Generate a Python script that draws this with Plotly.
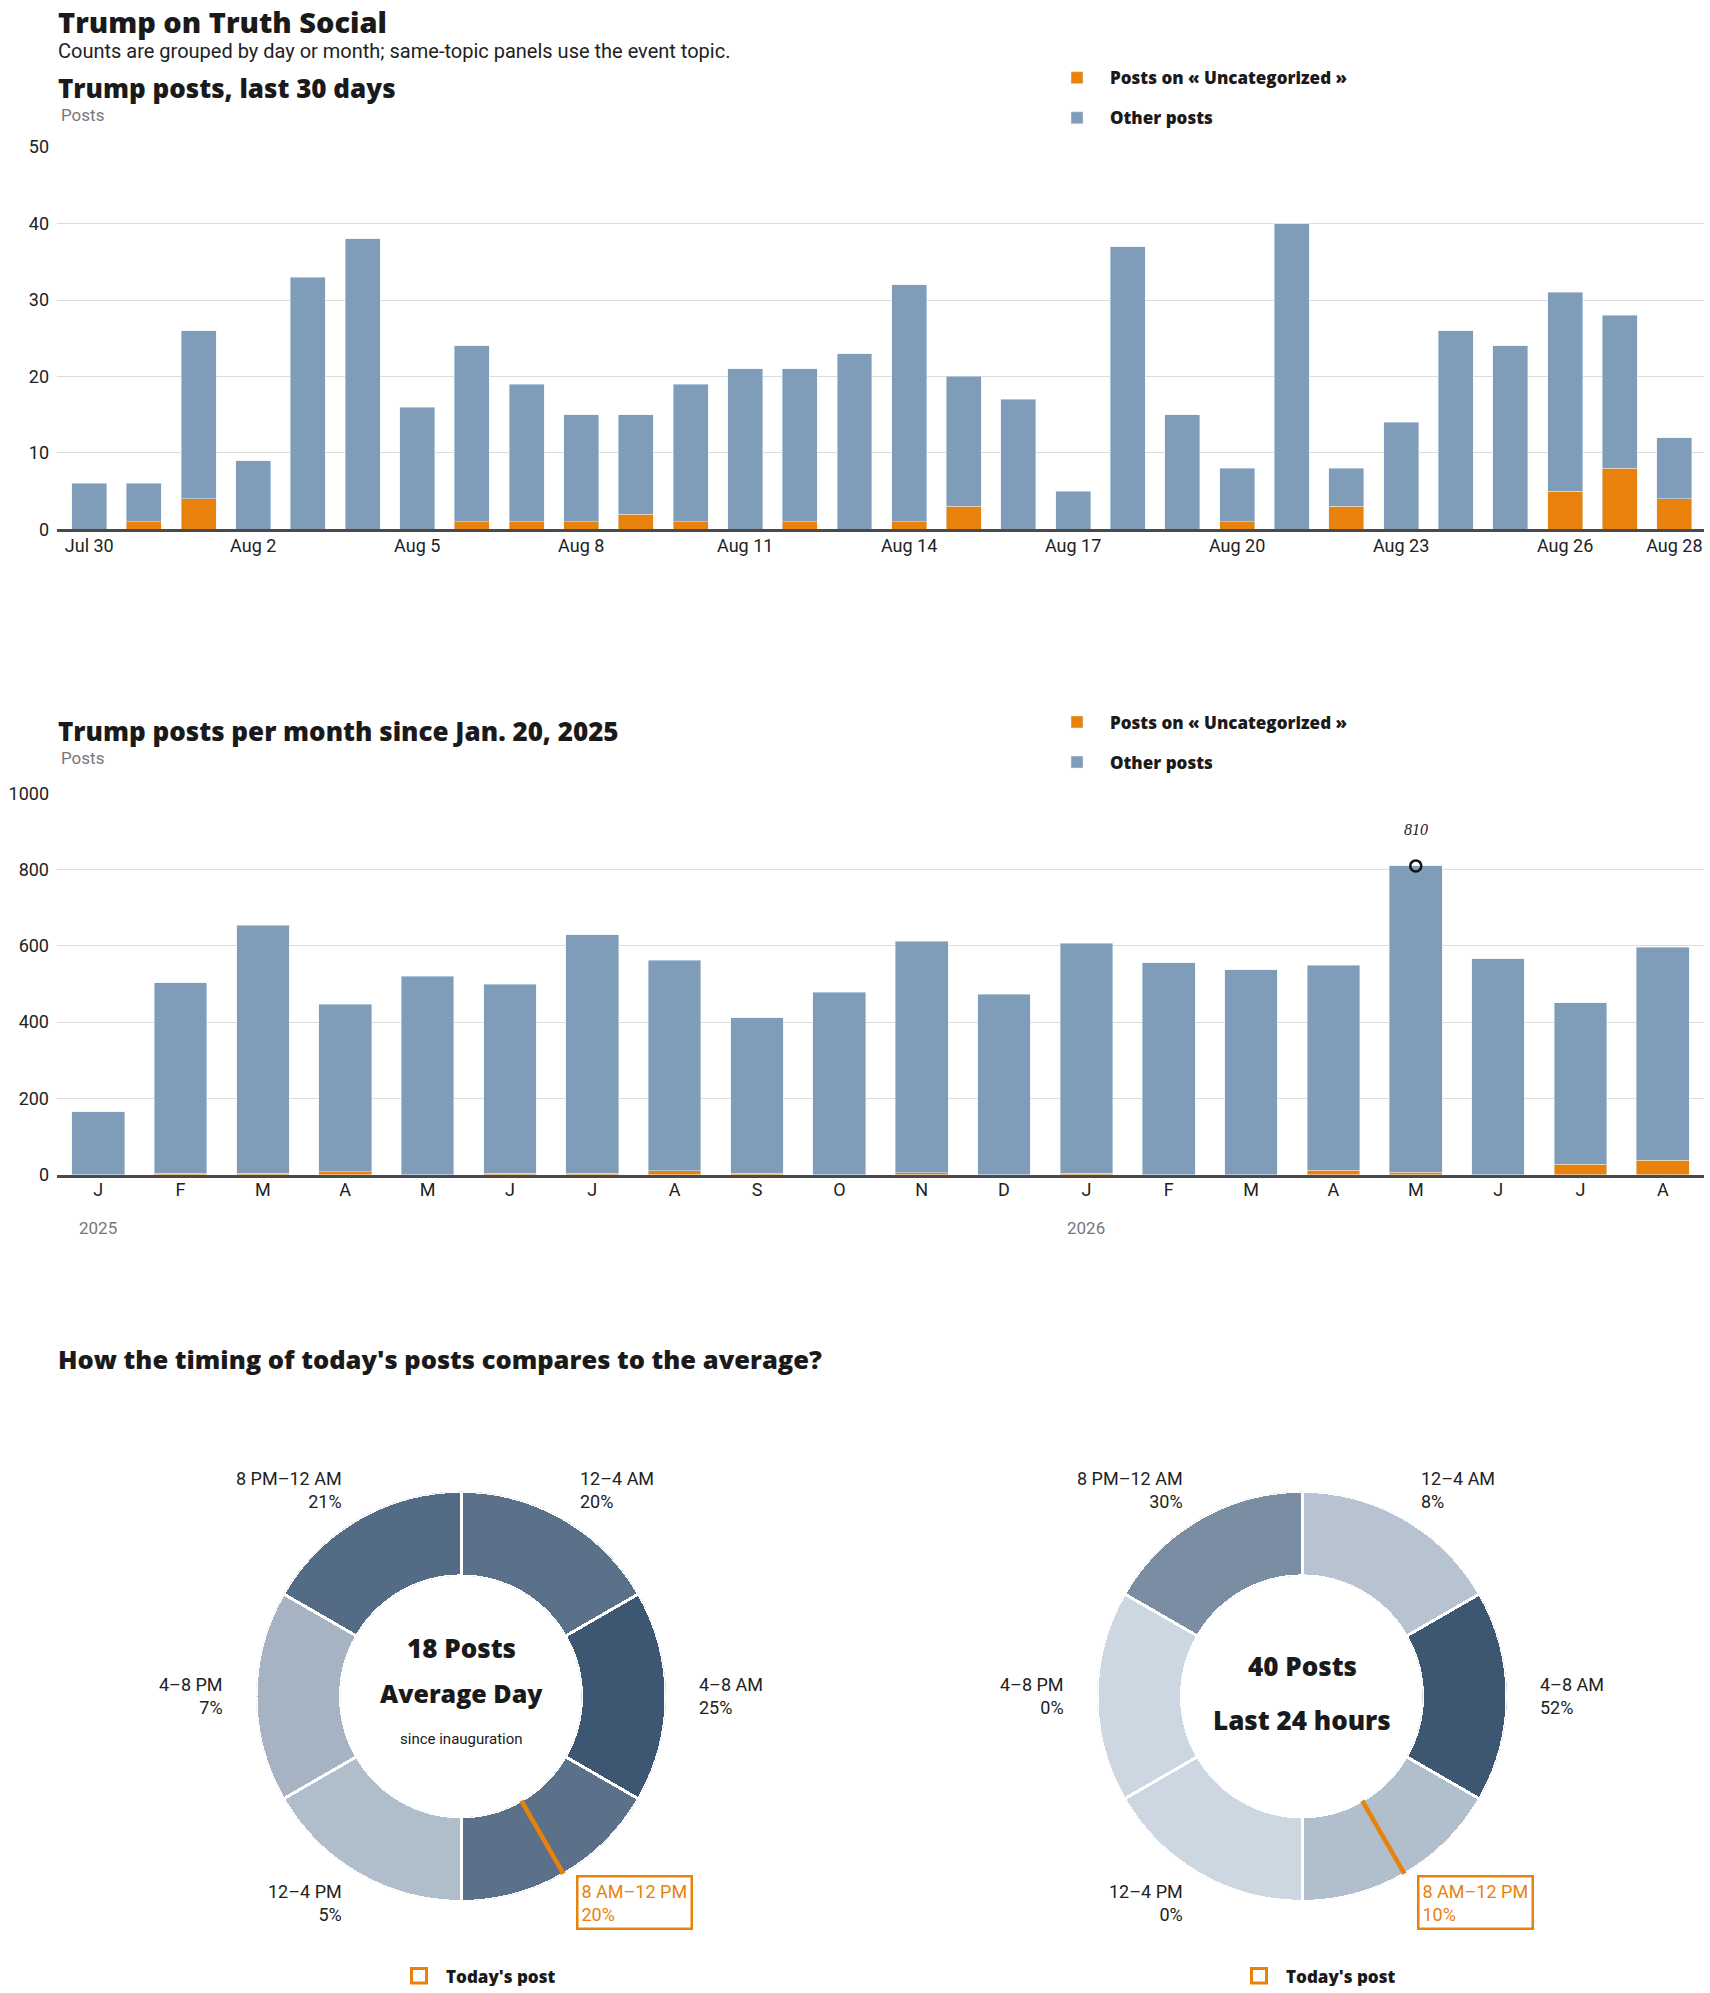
import math
import plotly.graph_objects as go

# ---------------- data ----------------
days = ["2026-07-30", "2026-07-31"] + ["2026-08-%02d" % d for d in range(1, 29)]
day_ticks = ["2026-07-30", "2026-08-02", "2026-08-05", "2026-08-08", "2026-08-11",
             "2026-08-14", "2026-08-17", "2026-08-20", "2026-08-23", "2026-08-26",
             "2026-08-28"]
daily_total = [6, 6, 26, 9, 33, 38, 16, 24, 19, 15, 15, 19, 21, 21, 23,
               32, 20, 17, 5, 37, 15, 8, 40, 8, 14, 26, 24, 31, 28, 12]
daily_topic = [0, 1, 4, 0, 0, 0, 0, 1, 1, 1, 2, 1, 0, 1, 0,
               1, 3, 0, 0, 0, 0, 1, 0, 3, 0, 0, 0, 5, 8, 4]

months = ["2025-01", "2025-02", "2025-03", "2025-04", "2025-05", "2025-06",
          "2025-07", "2025-08", "2025-09", "2025-10", "2025-11", "2025-12",
          "2026-01", "2026-02", "2026-03", "2026-04", "2026-05", "2026-06",
          "2026-07", "2026-08"]
month_letters = ["J", "F", "M", "A", "M", "J", "J", "A", "S", "O", "N", "D",
                 "J", "F", "M", "A", "M", "J", "J", "A"]
monthly_total = [165, 504, 654, 447, 520, 499, 630, 562, 412, 478,
                 612, 473, 607, 556, 538, 549, 810, 567, 451, 596]
monthly_topic = [0, 3, 3, 8, 0, 3, 3, 10, 3, 0,
                 5, 0, 4, 0, 0, 11, 6, 0, 27, 38]
years = ["2025", "2026"]
year_months = ["2025-01", "2026-01"]

slots = ["12–4 AM", "4–8 AM", "8 AM–12 PM", "12–4 PM", "4–8 PM", "8 PM–12 AM"]
slot_hours = [4, 4, 4, 4, 4, 4]
avg_share = [20, 25, 20, 5, 7, 21]
today_share = [8, 52, 10, 0, 0, 30]
avg_posts = 18
today_posts = 40
today_post_hour = 10

ORANGE = "#e8820c"
BLUE = "#7f9db8"
DARK = "#1a1a1a"
FONT = "Roboto"
HEAVY = "Open Sans"

W, H = 1710, 1993
# vertical calibration of the photographed page (measured from test renders)
Y_OFF, Y_SCALE = 10.9, 0.989


def px(x):
    return min(max(x / W, 0), 1)


def py(y):
    y = (y - Y_OFF) / Y_SCALE
    return min(max(1 - y / H, 0), 1)


fig = go.Figure()

# ---------------- top: last 30 days ----------------
other_daily = [t - o for t, o in zip(daily_total, daily_topic)]
fig.add_trace(go.Bar(x=days, y=daily_topic, name="Posts on « Uncategorized »",
                     marker_color=ORANGE, xaxis="x", yaxis="y", legend="legend",
                     legendgroup="a"))
fig.add_trace(go.Bar(x=days, y=other_daily, name="Other posts",
                     marker_color=BLUE, xaxis="x", yaxis="y", legend="legend",
                     legendgroup="b"))

# ---------------- middle: per month ----------------
other_monthly = [t - o for t, o in zip(monthly_total, monthly_topic)]
fig.add_trace(go.Bar(x=months, y=monthly_topic, name="Posts on « Uncategorized »",
                     marker_color=ORANGE, xaxis="x2", yaxis="y2", legend="legend2",
                     legendgroup="c"))
fig.add_trace(go.Bar(x=months, y=other_monthly, name="Other posts",
                     marker_color=BLUE, xaxis="x2", yaxis="y2", legend="legend2",
                     legendgroup="d"))
imax = monthly_total.index(max(monthly_total))
fig.add_trace(go.Scatter(x=[months[imax]], y=[monthly_total[imax]], mode="markers",
                         marker=dict(symbol="circle-open", size=11, color="#111",
                                     line=dict(width=2.5)),
                         xaxis="x2", yaxis="y2", showlegend=False, cliponaxis=False))

# ---------------- bottom: donuts ----------------
R = 205
HOLE = 120.5 / 205
centers = [(461, 1695.5), (1302, 1695.5)]
shares = [avg_share, today_share]
thetas = []
acc = 0
for h in slot_hours:
    thetas.append((acc + h / 2) * 360 / 24)
    acc += h
widths = [h * 360 / 24 for h in slot_hours]

for i, (c, sh) in enumerate(zip(centers, shares)):
    name = "polar" if i == 0 else "polar2"
    fig.add_trace(go.Barpolar(
        r=[1] * len(sh), theta=thetas, width=widths, subplot=name,
        marker=dict(color=sh, colorscale=[[0, "#cdd7e1"], [1, "#3d5773"]],
                    cmin=0, cmax=max(sh), line=dict(color="white", width=3)),
        customdata=sh, hovertemplate="%{customdata}%<extra></extra>",
        showlegend=False))
    fig.add_trace(go.Scatterpolar(
        r=[0, 1.085], theta=[today_post_hour * 15] * 2, mode="lines", subplot=name,
        line=dict(color=ORANGE, width=4.5), cliponaxis=False, showlegend=False,
        hoverinfo="skip"))
    dom = dict(x=[px(c[0] - R), px(c[0] + R)], y=[py(c[1] + R), py(c[1] - R)])
    fig.update_layout(**{name: dict(
        domain=dom, hole=HOLE, bgcolor="white",
        radialaxis=dict(range=[0, 1], visible=False),
        angularaxis=dict(rotation=90, direction="clockwise", visible=False))})

annotations = []
shapes = []

# slice labels
for i, (c, sh) in enumerate(zip(centers, shares)):
    for j, (lab, th) in enumerate(zip(slots, thetas)):
        rad = math.radians(th)
        lx = c[0] + 238 * math.sin(rad)
        ly = c[1] - 238 * math.cos(rad)
        right = math.sin(rad) > 0
        today = thetas[j] - widths[j] / 2 <= today_post_hour * 15 < thetas[j] + widths[j] / 2
        annotations.append(dict(
            x=px(lx + (-4 if today else 0)), y=py(ly), xref="paper", yref="paper",
            text=f"{lab}<br>{sh[j]}%", showarrow=False,
            xanchor="left" if right else "right", yanchor="middle",
            align="left" if right else "right",
            font=dict(family=FONT, size=18, color=ORANGE if today else "#222"),
            bordercolor=ORANGE if today else None, borderwidth=2.5 if today else 0,
            borderpad=3 if today else 0))

# donut centre text
center_text = [
    (461, 1647.5, f"{avg_posts} Posts", 26, 800, HEAVY),
    (461, 1692.5, "Average Day", 25, 800, HEAVY),
    (461, 1738, "since inauguration", 15, 400, FONT),
    (1302, 1665.5, f"{today_posts} Posts", 26, 800, HEAVY),
    (1302, 1719, "Last 24 hours", 26, 800, HEAVY),
]
for x, y, t, s, wgt, fam in center_text:
    annotations.append(dict(x=px(x), y=py(y), xref="paper", yref="paper", text=t,
                            showarrow=False, xanchor="center", yanchor="middle",
                            font=dict(family=fam, size=s, weight=wgt, color=DARK)))

# "Today's post" keys (sit as low as the page allows)
key_y = 1975
for cx in (419, 1259):
    shapes.append(dict(type="rect", xref="paper", yref="paper",
                       x0=px(cx - 7.5), x1=px(cx + 7.5),
                       y0=py(key_y + 7.5), y1=py(key_y - 7.5),
                       line=dict(color=ORANGE, width=3), fillcolor="white"))
    annotations.append(dict(x=px(cx + 25), y=py(key_y), xref="paper", yref="paper",
                            text="Today's post", showarrow=False, xanchor="left",
                            yanchor="middle", height=20, valign="middle",
                            font=dict(family=HEAVY, size=17, weight=800, color=DARK)))

# main title: box trimmed above the cap height so it can sit at the very top
annotations.append(dict(x=px(56), y=py(25.9), xref="paper", yref="paper",
                        text="Trump on Truth Social", showarrow=False,
                        xanchor="left", yanchor="middle", height=30, valign="bottom",
                        font=dict(family=HEAVY, size=29, weight=800, color=DARK)))

titles = [
    (51, "Counts are grouped by day or month; same-topic panels use the event topic.", 20, 400, FONT, "#222"),
    (88, "Trump posts, last 30 days", 26, 800, HEAVY, DARK),
    (731, "Trump posts per month since Jan. 20, 2025", 26, 800, HEAVY, DARK),
    (1358, "How the timing of today's posts compares to the average?", 25.5, 800, HEAVY, DARK),
]
for y, t, s, wgt, fam, col in titles:
    annotations.append(dict(x=px(56), y=py(y), xref="paper", yref="paper", text=t,
                            showarrow=False, xanchor="left", yanchor="middle",
                            font=dict(family=fam, size=s, weight=wgt, color=col)))
for y in (115, 758):
    annotations.append(dict(x=px(59), y=py(y), xref="paper", yref="paper", text="Posts",
                            showarrow=False, xanchor="left", yanchor="middle",
                            font=dict(family=FONT, size=17, color="#777")))

# year labels under month axis
for yr, m in zip(years, year_months):
    annotations.append(dict(x=m, y=py(1227), xref="x2", yref="paper", text=yr,
                            showarrow=False, xanchor="center", yanchor="middle",
                            font=dict(family=FONT, size=17, color="#777")))

# max annotation
annotations.append(dict(x=months[imax], y=monthly_total[imax], xref="x2", yref="y2",
                        text=f"<i>{monthly_total[imax]}</i>", showarrow=False,
                        yshift=36, font=dict(family="Liberation Serif", size=16,
                                             color="#222")))

axis_font = dict(family=FONT, size=18, color="#222")
legend_font = dict(family=HEAVY, size=17, weight=800, color=DARK)
x_dom = [px(57), px(1704)]

fig.update_layout(
    width=W, height=H, margin=dict(l=0, r=0, t=0, b=0),
    paper_bgcolor="white", plot_bgcolor="white",
    barmode="stack", bargap=0.36,
    font=dict(family=FONT, color="#222"),
    xaxis=dict(domain=x_dom, type="date",
               range=["2026-07-29 09:50", "2026-08-28 13:00"],
               tickvals=day_ticks, tickformat="%b %-d", ticks="",
               showline=True, linecolor="#4a4a4a", linewidth=3, showgrid=False,
               tickfont=axis_font, anchor="y", ticklabelstandoff=-2),
    yaxis=dict(domain=[py(529), py(147)], range=[0, 50], dtick=10,
               gridcolor="#dcdcdc", gridwidth=1, zeroline=False, ticks="",
               tickfont=axis_font, anchor="x", ticklabelstandoff=7),
    xaxis2=dict(domain=x_dom, type="category", range=[-0.5, 19.5],
                tickvals=months, ticktext=month_letters, ticks="",
                showline=True, linecolor="#4a4a4a", linewidth=3, showgrid=False,
                tickfont=axis_font, anchor="y2", ticklabelstandoff=-3),
    yaxis2=dict(domain=[py(1174), py(793)], range=[0, 1000], dtick=200,
                gridcolor="#dcdcdc", gridwidth=1, zeroline=False, ticks="",
                tickfont=axis_font, anchor="x2", ticklabelstandoff=7),
    legend=dict(x=px(1044), y=py(60), xanchor="left", yanchor="top",
                itemwidth=56, traceorder="grouped", tracegroupgap=15,
                font=legend_font, bgcolor="rgba(0,0,0,0)"),
    legend2=dict(x=px(1044), y=py(704), xanchor="left", yanchor="top",
                 itemwidth=56, traceorder="grouped", tracegroupgap=15,
                 font=legend_font, bgcolor="rgba(0,0,0,0)"),
    annotations=annotations, shapes=shapes,
    showlegend=True,
)

fig.write_html("out.html", config={"displayModeBar": False},
               post_script="document.body.style.margin='0';")
